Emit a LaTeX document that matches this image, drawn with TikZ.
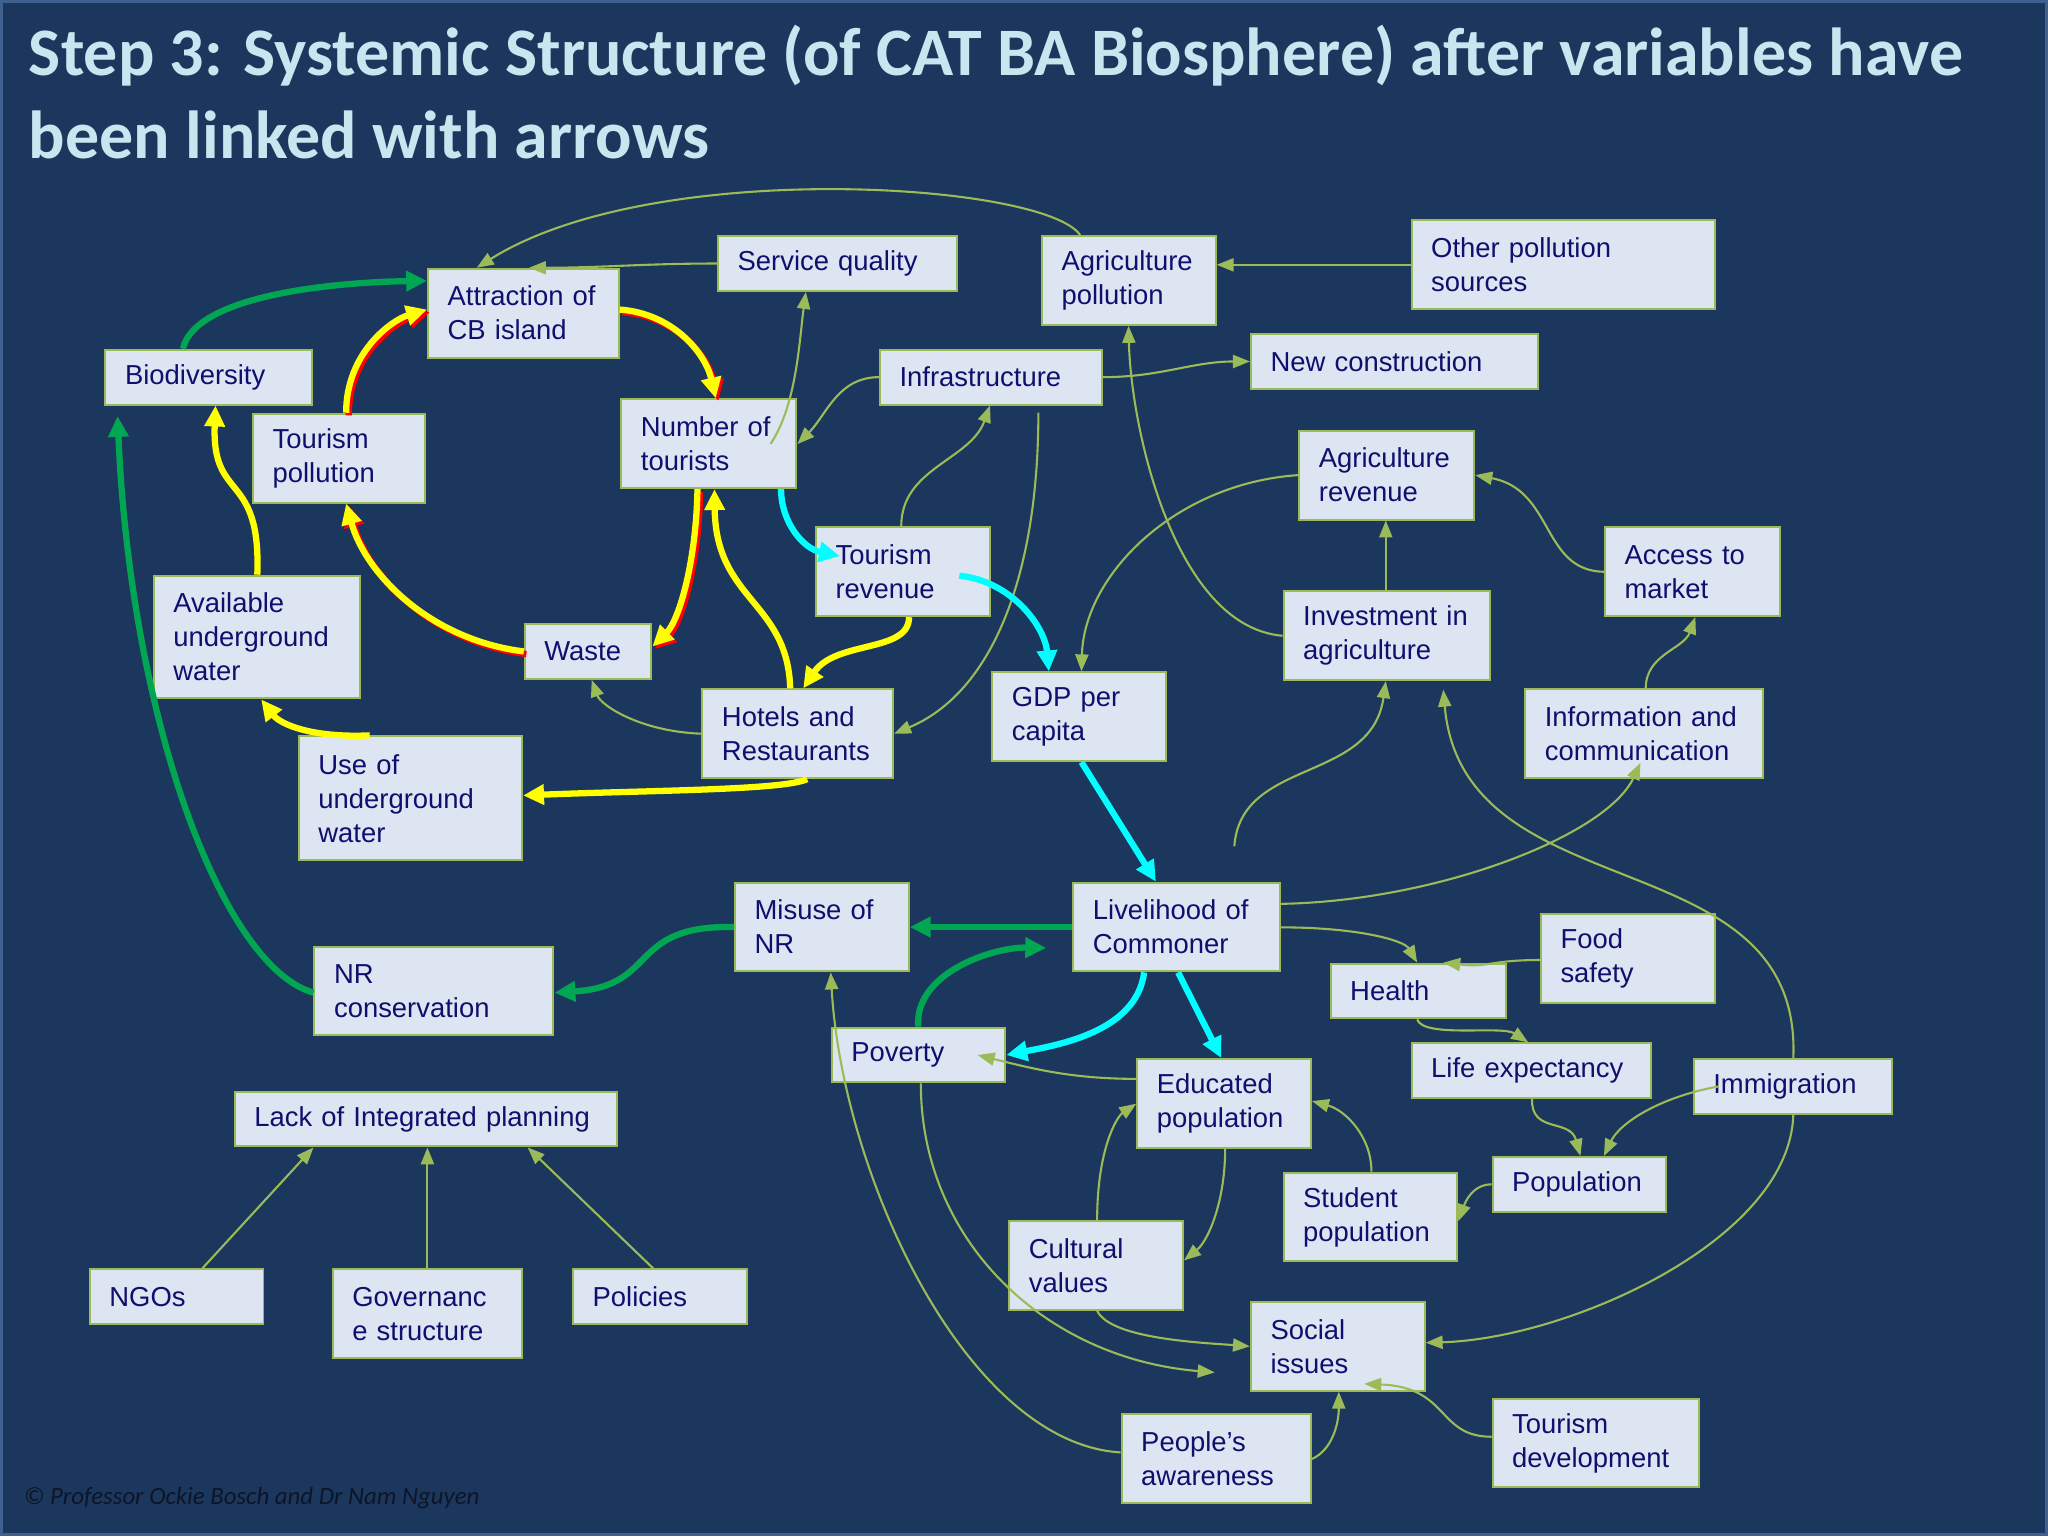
\documentclass[tikz,border=0pt]{standalone}
\usepackage{fontspec}
\setmainfont{Liberation Sans}
\newfontfamily\slidefont{Carlito}
\usepackage{xcolor}
\usetikzlibrary{arrows.meta}

\definecolor{slidebg}{HTML}{1C375E}
\definecolor{slideframe}{HTML}{3F6190}
\definecolor{varfill}{HTML}{DDE5F2}
\definecolor{varline}{HTML}{9BBB59}
\definecolor{vartext}{HTML}{0F0F6E}
\definecolor{linkcol}{HTML}{9BBB59}
\definecolor{loopgreen}{HTML}{00A651}
\definecolor{loopyellow}{HTML}{FFFF00}
\definecolor{loopred}{HTML}{FF0000}
\definecolor{loopcyan}{HTML}{00FFFF}
\definecolor{titlecol}{HTML}{C8E6F0}
\definecolor{footcol}{HTML}{0D1526}

\tikzset{
  var/.style={draw=varline, fill=varfill, line width=1.5pt, text=vartext,
    font=\fontsize{21}{26}\selectfont, anchor=north west, align=left,
    inner xsep=15pt, inner ysep=3pt},
  link/.style={draw=linkcol, line width=1.6pt,
    -{Triangle[length=13pt,width=10pt]}},
  greenlink/.style={draw=loopgreen, line width=4.8pt,
    -{Triangle[length=16pt,width=15pt]}},
  yellowlink/.style={draw=loopyellow, line width=4.8pt,
    -{Triangle[length=16pt,width=15pt]}},
  redlink/.style={draw=loopred, line width=4.8pt,
    transform canvas={shift={(2pt,-2pt)}},
    -{Triangle[length=16pt,width=15pt]}},
  cyanlink/.style={draw=loopcyan, line width=4.8pt,
    -{Triangle[length=16pt,width=15pt]}},
  titletext/.style={anchor=base west, text=titlecol, inner sep=0pt,
    font=\slidefont\bfseries\fontsize{52}{63}\selectfont},
}

\begin{document}
\begin{tikzpicture}[x=1pt,y=-1pt]
\useasboundingbox (0,0) rectangle (1568,1176);
\fill[slidebg] (0,0) rectangle (1568,1176);
\draw[slideframe, line width=2.5pt] (1,1) rectangle (1567,1175);

% title
\node[titletext] (title1) at (22,58) {Step 3: Systemic Structure (of CAT BA Biosphere) after variables have};
\node[titletext] (title2) at (22,121) {been linked with arrows};

% variables
\node[var, text width=128pt, minimum height=42pt] (bio) at (80,267) {Biodiversity};
\node[var, text width=116pt, minimum height=68pt] (attr) at (327,205) {Attraction of\\CB island};
\node[var, text width=153pt, minimum height=42pt] (servq) at (549,180) {Service quality};
\node[var, text width=103pt, minimum height=68pt] (agpol) at (797,180) {Agriculture\\pollution};
\node[var, text width=202pt, minimum height=68pt] (other) at (1080,168) {Other pollution\\sources};
\node[var, text width=102pt, minimum height=68pt] (tpol) at (193,316) {Tourism\\pollution};
\node[var, text width=104pt, minimum height=68pt] (numt) at (475,305) {Number of\\tourists};
\node[var, text width=140pt, minimum height=42pt] (infra) at (673,267) {Infrastructure};
\node[var, text width=190pt, minimum height=42pt] (newc) at (957,255) {New construction};
\node[var, text width=104pt, minimum height=68pt] (agrev) at (994,329) {Agriculture\\revenue};
\node[var, text width=103pt, minimum height=68pt] (trev) at (624,403) {Tourism\\revenue};
\node[var, text width=104pt, minimum height=68pt] (access) at (1228,403) {Access to\\market};
\node[var, text width=128pt, minimum height=94pt] (avail) at (117,440) {Available\\underground\\water};
\node[var, text width=67pt, minimum height=42pt] (waste) at (401,477) {Waste};
\node[var, text width=128pt, minimum height=68pt] (invest) at (982,452) {Investment in\\agriculture};
\node[var, text width=116pt, minimum height=68pt] (hotels) at (537,527) {Hotels and\\Restaurants};
\node[var, text width=103pt, minimum height=68pt] (gdp) at (759,514) {GDP per\\capita};
\node[var, text width=152pt, minimum height=68pt] (info) at (1167,527) {Information and\\communication};
\node[var, text width=141pt, minimum height=95pt] (useu) at (228,563) {Use of\\underground\\water};
\node[var, text width=103pt, minimum height=68pt] (misuse) at (562,675) {Misuse of\\NR};
\node[var, text width=128pt, minimum height=68pt] (liveli) at (821,675) {Livelihood of\\Commoner};
\node[var, text width=103pt, minimum height=68pt] (food) at (1179,699) {Food\\safety};
\node[var, text width=104pt, minimum height=42pt] (health) at (1018,737) {Health};
\node[var, text width=153pt, minimum height=68pt] (nrcons) at (240,724) {NR\\conservation};
\node[var, text width=103pt, minimum height=42pt] (poverty) at (636,786) {Poverty};
\node[var, text width=153pt, minimum height=42pt] (lifeexp) at (1080,798) {Life expectancy};
\node[var, text width=103pt, minimum height=68pt] (edu) at (870,810) {Educated\\population};
\node[var, text width=122pt, minimum height=42pt] (immig) at (1296,810) {Immigration};
\node[var, text width=263pt, minimum height=42pt] (lack) at (179,835) {Lack of Integrated planning};
\node[var, text width=103pt, minimum height=68pt] (student) at (982,897) {Student\\population};
\node[var, text width=103pt, minimum height=42pt] (pop) at (1142,885) {Population};
\node[var, text width=103pt, minimum height=68pt] (cult) at (772,934) {Cultural\\values};
\node[var, text width=103pt, minimum height=42pt] (ngo) at (68,971) {NGOs};
\node[var, text width=115pt, minimum height=68pt] (gov) at (254,971) {Governanc\\e structure};
\node[var, text width=103pt, minimum height=42pt] (pol) at (438,971) {Policies};
\node[var, text width=103pt, minimum height=68pt] (social) at (957,996) {Social\\issues};
\node[var, text width=128pt, minimum height=68pt] (tdev) at (1142,1070) {Tourism\\development};
\node[var, text width=115pt, minimum height=68pt] (aware) at (858,1082) {People’s\\awareness};

\coordinate (lvtop) at (945,648);

% plain links
\draw[link] (827,0 |- agpol.north) .. controls (800,140) and (500,120) .. (365,0 |- attr.north); % agpol-attr
\draw[link] (servq.west) to[out=180,in=0] (405,0 |- attr.north); % servq-attr
\draw[link] (other.west) -- (agpol.east |- other.west); % other-agpol
\draw[link] (infra.east) to[out=0,in=180] (newc.west); % infra-newc
\draw[link] (infra.west) to[out=180,in=45] (numt.east |- 0,340); % infra-numt
\draw[link] (590,0 |- numt.center) .. controls (610,310) and (612,260) .. (617,0 |- servq.south); % numt-servq
\draw[link] (690,0 |- trev.north) to[out=90,in=-110] (758,0 |- infra.south); % trev-infra
\draw[link] (795,316) .. controls (795,440) and (760,530) .. (hotels.east); % infra-hotels
\draw[link] (invest.west) .. controls (900,480) and (866,330) .. (864,0 |- agpol.south); % invest-agpol
\draw[link] (agrev.west) .. controls (900,370) and (830,440) .. (828,0 |- gdp.north); % agrev-gdp
\draw[link] (1061,0 |- invest.north) -- (1061,0 |- agrev.south); % invest-agrev
\draw[link] (access.west) .. controls (1180,437) and (1190,375) .. (agrev.east); % access-agrev
\draw[link] (1260,0 |- info.north) to[out=90,in=-110] (1298,0 |- access.south); % info-access
\draw[link] (liveli.east |- 0,692) .. controls (1100,690) and (1230,640) .. (1256,584); % liveli-info
\draw[link] (lvtop) .. controls (950,580) and (1050,600) .. (1061,0 |- invest.south); % liveli-invest
\draw[link] (1373,0 |- immig.north) .. controls (1380,640) and (1120,700) .. (1105,528); % immig-invest
\draw[link] (1373,0 |- immig.south) .. controls (1370,950) and (1200,1025) .. (social.east |- 0,1028); % immig-social
\draw[link] (1316,0 |- immig.west) .. controls (1270,840) and (1240,860) .. (1228,0 |- pop.north); % immig-pop
\draw[link] (1173,0 |- lifeexp.south) .. controls (1172,868) and (1202,856) .. (1210,0 |- pop.north); % lifeexp-pop
\draw[link] (1085,0 |- health.south) .. controls (1090,795) and (1150,785) .. (1170,0 |- lifeexp.north); % health-lifeexp
\draw[link] (liveli.east |- 0,710) .. controls (1040,710) and (1075,720) .. (1085,0 |- health.north); % liveli-health
\draw[link] (food.west |- 0,735) .. controls (1140,735) and (1140,741) .. (1105,0 |- health.north); % food-health
\draw[link] (pop.west) to[out=180,in=70] (student.east |- 0,935); % pop-student
\draw[link] (1050,0 |- student.north) .. controls (1050,870) and (1030,850) .. (edu.east |- 0,843); % student-edu
\draw[link] (938,0 |- edu.south) .. controls (938,920) and (925,950) .. (cult.east |- 0,965); % edu-cult
\draw[link] (840,0 |- cult.north) .. controls (840,880) and (855,855) .. (edu.west |- 0,845); % cult-edu
\draw[link] (edu.west |- 0,826) .. controls (820,826) and (790,818) .. ([xshift=-22pt]poverty.east); % edu-poverty
\draw[link] (705,0 |- poverty.south) .. controls (705,950) and (800,1040) .. ([xshift=-27pt,yshift=-20pt]social.west); % poverty-social
\draw[link] (840,0 |- cult.south) .. controls (850,1025) and (920,1028) .. (social.west); % cult-social
\draw[link] (aware.west |- 0,1112) .. controls (740,1105) and (645,900) .. (636,0 |- misuse.south); % aware-misuse
\draw[link] (aware.east |- 0,1117) .. controls (1020,1110) and (1025,1090) .. (1025,0 |- social.south); % aware-social
\draw[link] (tdev.west |- 0,1100) .. controls (1100,1100) and (1110,1062) .. ([xshift=-47pt,yshift=6pt]social.south east); % tdev-social
\draw[link] (hotels.west) .. controls (490,560) and (460,540) .. (453,0 |- waste.south); % hotels-waste
\draw[link] (155,0 |- ngo.north) -- (240,0 |- lack.south); % ngo-lack
\draw[link] (gov.north) -- (gov.north |- lack.south); % gov-lack
\draw[link] (500,0 |- pol.north) -- (404,0 |- lack.south); % pol-lack

% green loop
\draw[greenlink] (140,0 |- bio.north) .. controls (150,225) and (260,216) .. (attr.west |- 0,215); % bio-attr
\draw[greenlink] (nrcons.west |- 0,760) .. controls (170,740) and (100,550) .. ([xshift=10pt,yshift=-8pt]bio.south west); % nrcons-bio
\draw[greenlink] (misuse.west) .. controls (480,708) and (505,755) .. (nrcons.east |- 0,760); % misuse-nrcons
\draw[greenlink] (liveli.west) -- (misuse.east); % liveli-misuse
\draw[greenlink] (703,0 |- poverty.north) .. controls (700,745) and (760,725) .. ([xshift=-20pt,yshift=-16pt]liveli.west); % poverty-liveli

% red and yellow loop
\draw[redlink] (265,0 |- tpol.north) .. controls (265,270) and (300,245) .. (attr.west |- 0,237); % tpol-attr
\draw[yellowlink] (265,0 |- tpol.north) .. controls (265,270) and (300,245) .. (attr.west |- 0,237);
\draw[redlink] (attr.east |- 0,237) .. controls (515,240) and (540,270) .. (548,0 |- numt.north); % attr-numt
\draw[yellowlink] (attr.east |- 0,237) .. controls (515,240) and (540,270) .. (548,0 |- numt.north);
\draw[redlink] (534,0 |- numt.south) .. controls (533,430) and (520,475) .. (waste.east |- 0,495); % numt-waste
\draw[yellowlink] (534,0 |- numt.south) .. controls (533,430) and (520,475) .. (waste.east |- 0,495);
\draw[redlink] (waste.west) .. controls (330,490) and (280,440) .. (265,0 |- tpol.south); % waste-tpol
\draw[yellowlink] (waste.west) .. controls (330,490) and (280,440) .. (265,0 |- tpol.south);

% yellow links
\draw[yellowlink] (197,0 |- avail.north) .. controls (200,360) and (162,385) .. (165,0 |- bio.south); % avail-bio
\draw[yellowlink] (605,0 |- hotels.north) .. controls (603,460) and (548,460) .. (547,0 |- numt.south); % hotels-numt
\draw[yellowlink] (696,0 |- trev.south) .. controls (696,500) and (640,490) .. (615,0 |- hotels.north); % trev-hotels
\draw[yellowlink] (618,0 |- hotels.south) .. controls (600,605) and (500,605) .. (useu.east |- 0,609); % hotels-useu
\draw[yellowlink] (283,0 |- useu.north) .. controls (240,565) and (215,555) .. (200,0 |- avail.south); % useu-avail

% cyan links
\draw[cyanlink] (598,0 |- numt.south) .. controls (598,400) and (615,420) .. ([xshift=19pt,yshift=12pt]trev.west); % numt-trev
\draw[cyanlink] ([xshift=-24pt,yshift=-3pt]trev.east) .. controls (775,445) and (800,480) .. (803,0 |- gdp.north); % trev-gdp
\draw[cyanlink] (828,0 |- gdp.south) -- (885,0 |- liveli.north); % gdp-liveli
\draw[cyanlink] (876,0 |- liveli.south) .. controls (870,790) and (810,800) .. (poverty.east); % liveli-poverty
\draw[cyanlink] (902,0 |- liveli.south) -- (935,0 |- edu.north); % liveli-edu

% footer
\node[anchor=base west, inner sep=0pt, text=footcol, font=\slidefont\itshape\fontsize{19}{22}\selectfont] (credit) at (18,1152) {© Professor Ockie Bosch and Dr Nam Nguyen};
\end{tikzpicture}
\end{document}
